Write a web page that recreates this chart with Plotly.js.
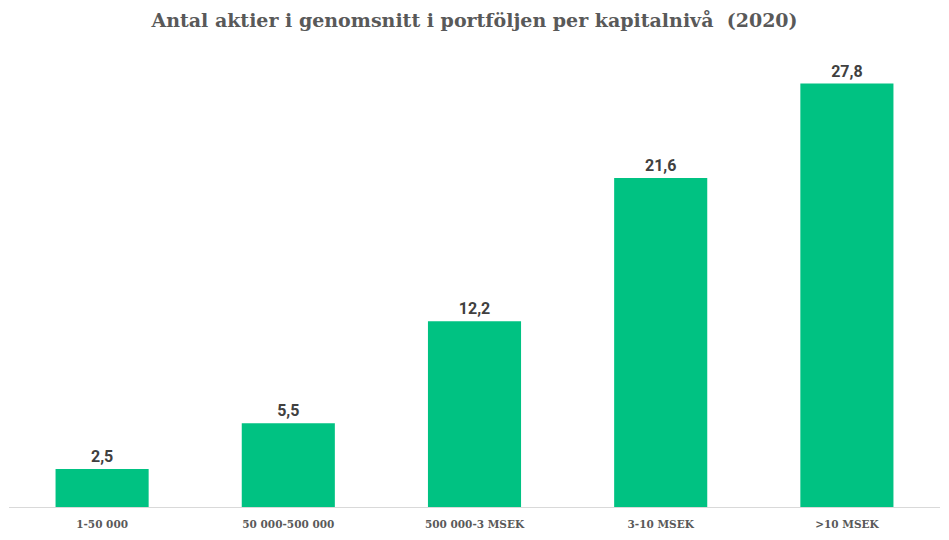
<!DOCTYPE html>
<html>
<head>
<meta charset="utf-8">
<script src="https://cdn.plot.ly/plotly-3.0.1.min.js"></script>
<style>html,body{margin:0;padding:0;background:#fff;}#chart{width:949px;height:540px;}</style>
</head>
<body>
<div id="chart"></div>
<script>
const categories = ["1-50 000", "50 000-500 000", "500 000-3 MSEK", "3-10 MSEK", ">10 MSEK"];
const values = [2.5, 5.5, 12.2, 21.6, 27.8];
const valueLabels = values.map(v => v.toFixed(1).replace('.', ','));

const trace = {
  type: 'bar',
  x: categories,
  y: values,
  text: valueLabels,
  textposition: 'outside',
  cliponaxis: false,
  textfont: {family: 'Roboto, sans-serif', size: 16, color: '#404040', weight: 'bold'},
  marker: {color: '#00C282'},
  width: 0.5,
  hoverinfo: 'none'
};

const layout = {
  width: 949, height: 540,
  margin: {l: 9, r: 9, t: 50, b: 33},
  paper_bgcolor: '#ffffff', plot_bgcolor: '#ffffff',
  title: {
    text: 'Antal aktier i genomsnitt i portföljen per kapitalnivå  (2020)',
    font: {family: '"DejaVu Serif", serif', size: 19, color: '#595959', weight: 'bold'},
    x: 0.5, xanchor: 'center', y: 0.962, yanchor: 'middle'
  },
  showlegend: false,
  bargap: 0.5,
  xaxis: {
    type: 'category',
    showline: true, linecolor: '#d9d9d9', linewidth: 1,
    ticks: '', showgrid: false,
    ticklabelstandoff: 7,
    tickfont: {family: '"DejaVu Serif", serif', size: 10.5, color: '#595959', weight: 'bold'}
  },
  yaxis: {
    range: [0, 30], visible: false, showgrid: false, zeroline: false
  }
};

Plotly.newPlot('chart', [trace], layout, {displayModeBar: false, staticPlot: true});
</script>
</body>
</html>
